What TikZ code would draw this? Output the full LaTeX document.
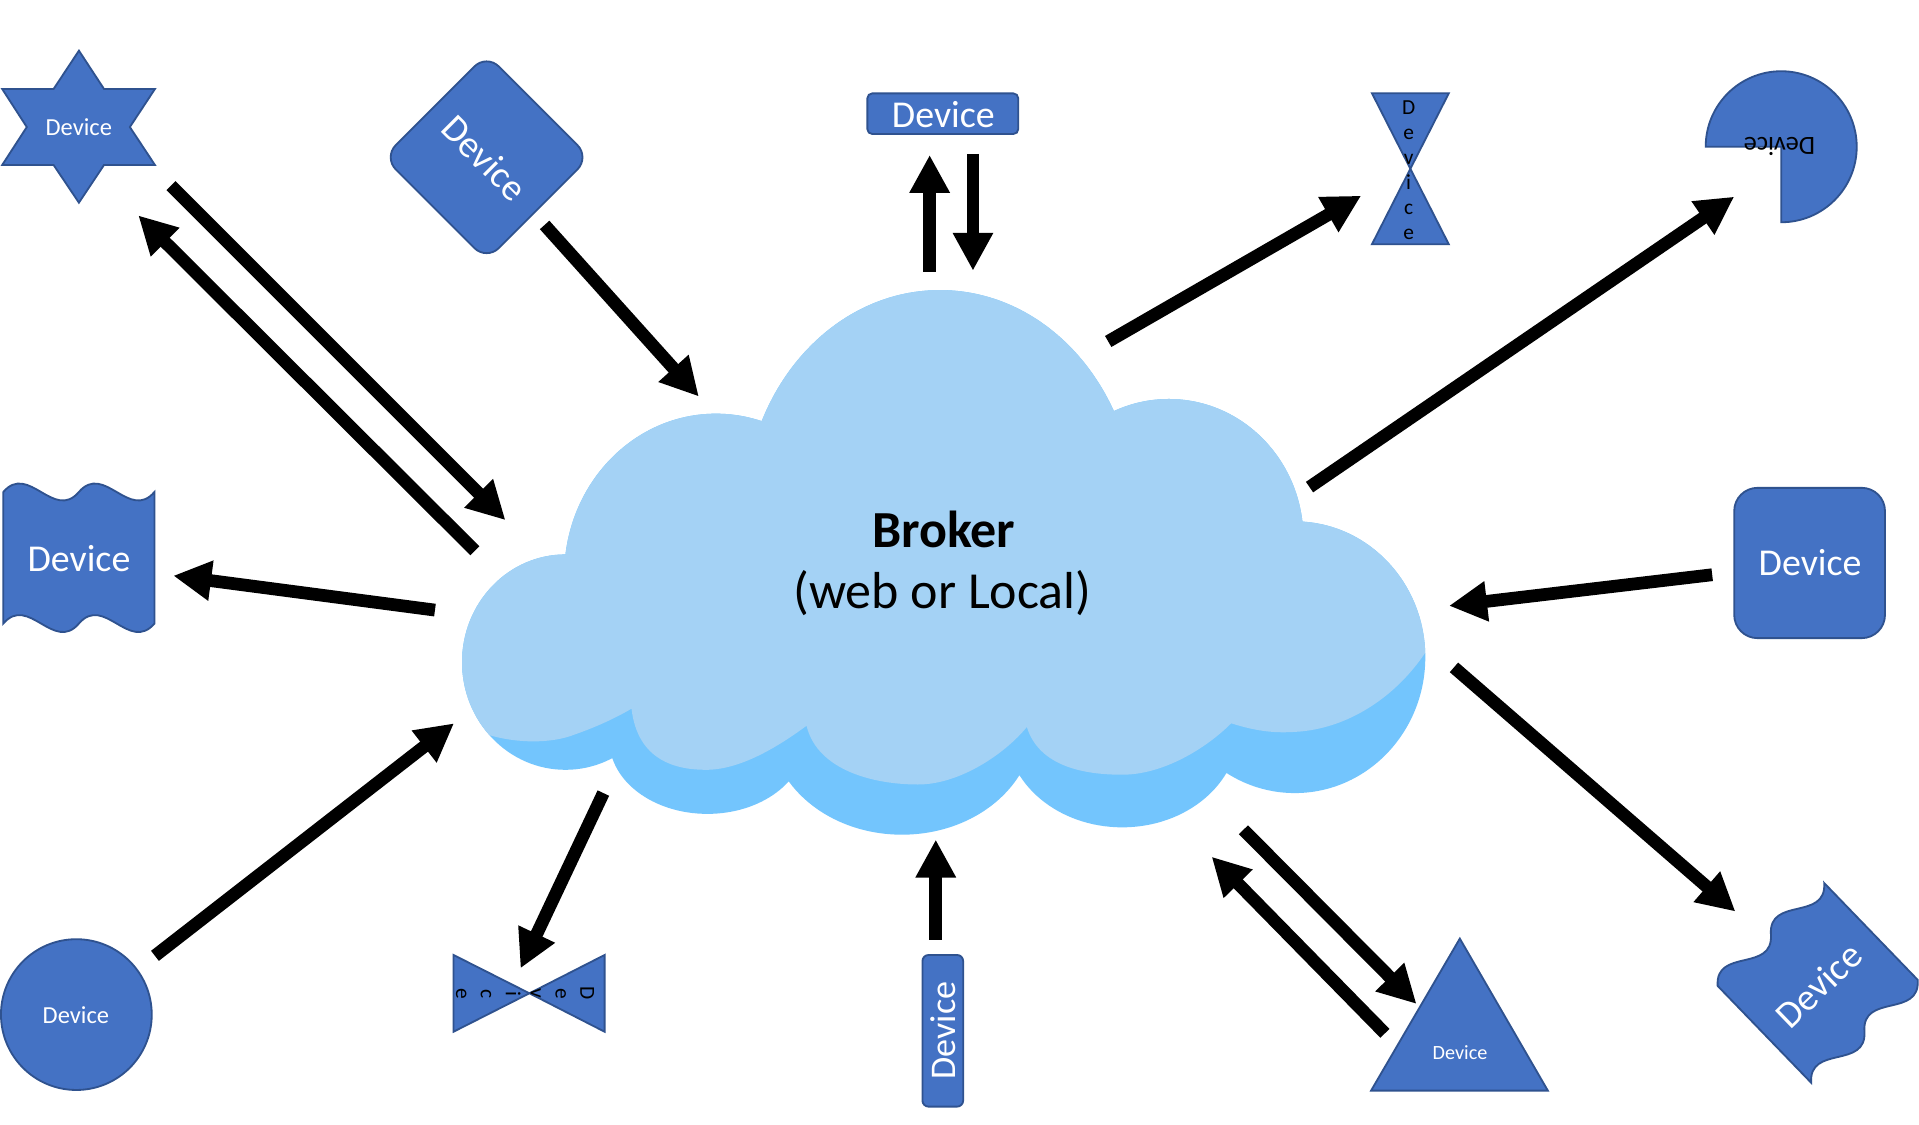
\documentclass[tikz,border=0pt]{standalone}
\usepackage{fontspec}
\setmainfont{Carlito}
\usetikzlibrary{arrows.meta}
\definecolor{devblue}{HTML}{4472C4}
\definecolor{devline}{HTML}{2F528F}
\definecolor{cloudlight}{RGB}{164,210,245}
\definecolor{clouddark}{RGB}{115,197,253}
\tikzset{
  dev/.style={fill=devblue, draw=devline, line width=1.5pt},
  fsz/.style={font=\fontsize{#1}{#1}\selectfont},
  wtext/.style={text=white, inner sep=0pt},
  btext/.style={text=black, inner sep=0pt},
  flow/.style={line width=10.4pt, -{Triangle[length=31pt,width=31pt]}},
}
\begin{document}
\begin{tikzpicture}[x=1pt,y=-1pt]
\fill[white] (0,0) rectangle (1568,919.2);
\useasboundingbox (0,0) rectangle (1568,919.2);

% ---------- cloud ----------
\fill[clouddark]
  (768,420) ellipse[x radius=160,y radius=183]
  (585,470) ellipse[x radius=124,y radius=132]
  (462,541) ellipse[x radius=84.5,y radius=88]
  (955,440) ellipse[x radius=110,y radius=114]
  (1058,537) ellipse[x radius=106.6,y radius=111]
  (578,605) ellipse[x radius=80,y radius=60]
  (737,592) ellipse[x radius=108,y radius=90]
  (917,596) ellipse[x radius=95,y radius=80]
  (770,500) ellipse[x radius=300,y radius=130];
\begin{scope}
\clip
  (768,420) ellipse[x radius=160,y radius=183]
  (585,470) ellipse[x radius=124,y radius=132]
  (462,541) ellipse[x radius=84.5,y radius=88]
  (955,440) ellipse[x radius=110,y radius=114]
  (1058,537) ellipse[x radius=106.6,y radius=111]
  (578,605) ellipse[x radius=80,y radius=60]
  (737,592) ellipse[x radius=108,y radius=90]
  (917,596) ellipse[x radius=95,y radius=80]
  (770,500) ellipse[x radius=300,y radius=130];
\fill[cloudlight] (350,598) -- (401,601)
  .. controls (422,607) and (450,608) .. (470,600)
  .. controls (490,593) and (506,585) .. (516,579)
  .. controls (521,622) and (553,629) .. (577,629)
  .. controls (607,629) and (640,607) .. (659,593)
  .. controls (668,630) and (715,641) .. (750,641)
  .. controls (785,641) and (822,615) .. (839,594)
  .. controls (849,626) and (885,633) .. (917,633)
  .. controls (950,633) and (985,612) .. (1006,591)
  .. controls (1028,598) and (1043,599) .. (1058,598)
  .. controls (1100,596) and (1142,570) .. (1168,528)
  -- (1190,520) -- (1190,150) -- (350,150) -- cycle;
\end{scope}
\node[anchor=base, inner sep=0pt, font=\fontsize{42.5}{50}\selectfont\bfseries] (broker) at (771,447.3) {Broker};
\node[anchor=base, inner sep=0pt, font=\fontsize{42.5}{50}\selectfont] (brokersub) at (770,497.2) {(web or Local)};

% ---------- devices ----------
% star
\filldraw[dev] (64.5,41.4) -- (85,72.7) -- (126.6,72.7) -- (106.1,103.8) -- (126.6,134.8) -- (85,134.8)
  -- (64.5,165.6) -- (43.8,134.8) -- (1.8,134.8) -- (21.9,103.8) -- (1.8,72.7) -- (43.8,72.7) -- cycle;
\node[wtext, fsz=20] (start) at (64.4,103.6) {Device};

% diamond
\node[dev, rectangle, rounded corners=14pt, minimum size=119pt, inner sep=0pt, rotate=45] (dia) at (397.6,128.5) {};
\node[wtext, fsz=31, rotate=-45] (diat) at (396,129) {Device};

% top rectangle
\node[dev, rectangle, rounded corners=4pt, minimum width=123.3pt, minimum height=33.2pt, inner sep=0pt] (topdev) at (770.35,92.9) {};
\node[wtext, fsz=31] (topt) at (770.8,94) {Device};

% hourglass
\filldraw[dev] (1121,76.2) -- (1183.8,76.2) -- (1152.4,137.9) -- (1183.8,199.6) -- (1121,199.6) -- (1152.4,137.9) -- cycle;
\foreach \ch [count=\k from 0] in {D,e,v,i,c,e}
  \node[btext, fsz=17.5, anchor=base] (hg\k) at (1151,93.5+20.4*\k) {\ch};

% pie
\filldraw[dev] (1455.4,119.9) -- ++(-61.7,0) arc[start angle=180, end angle=-90, radius=61.7pt] -- cycle;
\node[btext, fsz=21.5, rotate=180] (piet) at (1454,120) {Device};

% left wave
\filldraw[dev] (2.7,402) .. controls (23.28,378) and (43.87,426) .. (64.45,402)
  .. controls (85.03,378) and (105.62,426) .. (126.2,402) -- (126.2,509.5)
  .. controls (105.62,533.5) and (85.03,485.5) .. (64.45,509.5)
  .. controls (43.87,533.5) and (23.28,485.5) .. (2.7,509.5) -- cycle;
\node[wtext, fsz=31] (lwt) at (64.5,456) {Device};

% right rounded square
\node[dev, rectangle, rounded corners=19pt, minimum width=123.2pt, minimum height=122.8pt, inner sep=0pt] (rdev) at (1478.6,460) {};
\node[wtext, fsz=31] (rdevt) at (1479,460) {Device};

% circle
\node[dev, circle, minimum size=123.2pt, inner sep=0pt] (cdev) at (62.4,829) {};
\node[wtext, fsz=20] (cdevt) at (62,829.3) {Device};

% bowtie
\filldraw[dev] (370.6,780.3) -- (432.6,811.6) -- (494,780.3) -- (494,843) -- (432.6,811.6) -- (370.6,843) -- cycle;
\foreach \ch [count=\k from 0] in {D,e,v,i,c,e}
  \node[btext, fsz=17.5, anchor=base, rotate=-90] (bt\k) at (474.3-20.34*\k,811.8) {\ch};

% vertical rectangle
\node[dev, rectangle, rounded corners=5pt, minimum width=33.3pt, minimum height=123.9pt, inner sep=0pt] (vdev) at (770.35,842.25) {};
\node[wtext, fsz=29.5, rotate=90] (vdevt) at (771,842) {Device};

% triangle
\filldraw[dev] (1192.8,766.9) -- (1264.7,891.1) -- (1120.3,891.1) -- cycle;
\node[wtext, fsz=16.5] (trit) at (1193,860) {Device};

% rotated wave (bottom right)
\begin{scope}[shift={(1485.2,803.1)}, rotate=44]
\filldraw[dev] (-60.5,-55) .. controls (-40.33,-79) and (-20.17,-31) .. (0,-55)
  .. controls (20.17,-79) and (40.33,-31) .. (60.5,-55) -- (60.5,55)
  .. controls (40.33,79) and (20.17,31) .. (0,55)
  .. controls (-20.17,79) and (-40.33,31) .. (-60.5,55) -- cycle;
\end{scope}
\node[wtext, fsz=31, rotate=44] (brwt) at (1486,805) {Device};

% ---------- arrows ----------
\coordinate (a1s) at (388,450);   \coordinate (a1e) at (113,176);
\coordinate (a2s) at (139.7,151.7); \coordinate (a2e) at (413,425);
\coordinate (a3s) at (445,183.8); \coordinate (a3e) at (571,324);
\coordinate (a4s) at (759.6,222); \coordinate (a4e) at (759.6,126.6);
\coordinate (a5s) at (795,125.8); \coordinate (a5e) at (795,221.2);
\coordinate (a6s) at (905.5,279); \coordinate (a6e) at (1112.2,159.9);
\coordinate (a7s) at (1070,398);  \coordinate (a7e) at (1417,160.7);
\coordinate (a8s) at (1399,469.6); \coordinate (a8e) at (1184,495);
\coordinate (a9s) at (1188,545.3); \coordinate (a9e) at (1418,744.8);
\coordinate (a10s) at (1016,678); \coordinate (a10e) at (1157.4,820.3);
\coordinate (a11s) at (1131.6,844.3); \coordinate (a11e) at (990,700);
\coordinate (a12s) at (764.6,768); \coordinate (a12e) at (764.6,686);
\coordinate (a13s) at (493,648);  \coordinate (a13e) at (425.3,791.2);
\coordinate (a14s) at (126.6,781); \coordinate (a14e) at (371,591);
\coordinate (a15s) at (355.4,498.5); \coordinate (a15e) at (141.6,470.4);
\foreach \i in {1,...,15}
  \draw[flow] (a\i s) -- (a\i e);
\end{tikzpicture}
\end{document}
